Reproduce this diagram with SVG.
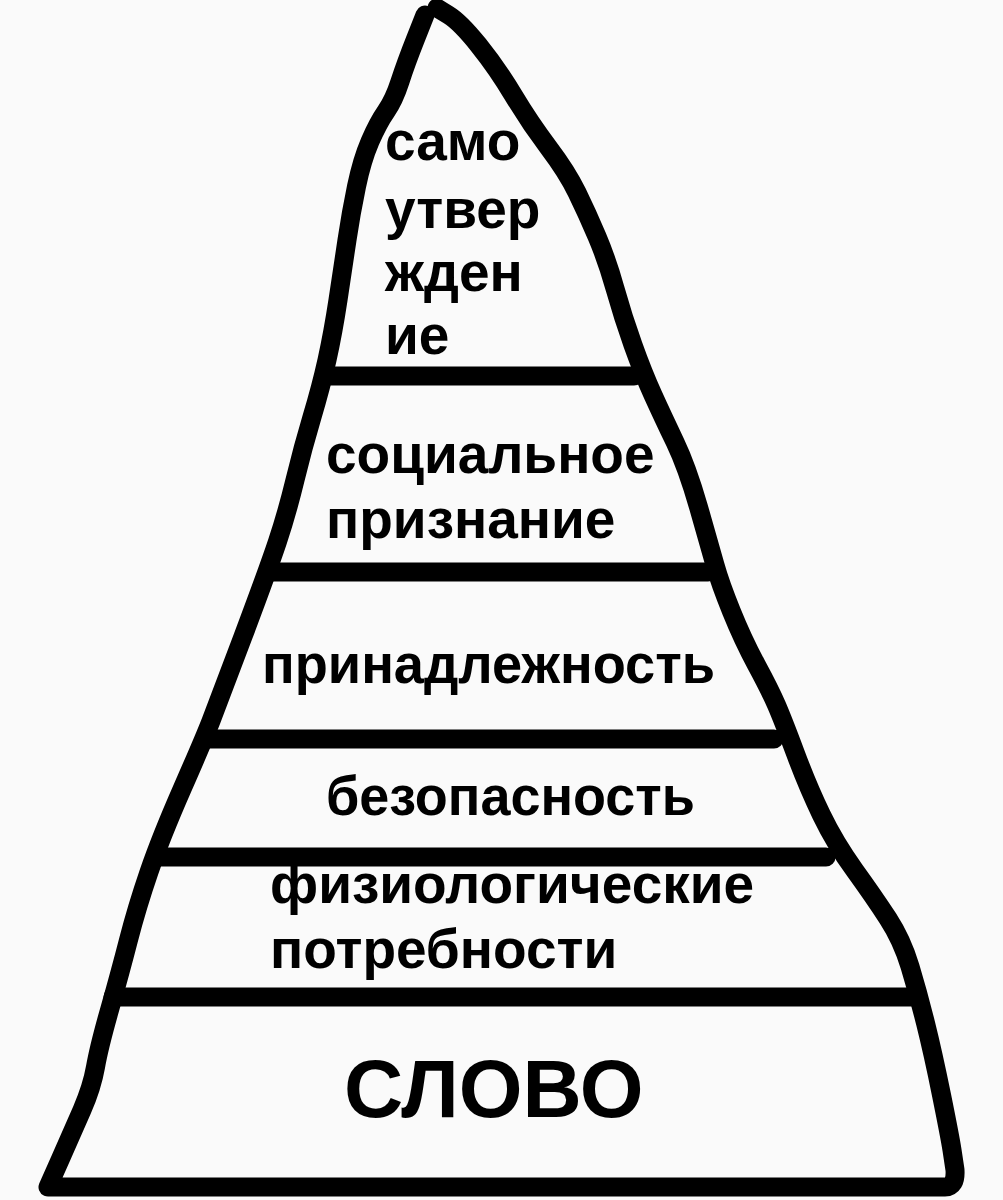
<svg xmlns="http://www.w3.org/2000/svg" width="1003" height="1200" viewBox="0 0 1003 1200">
<style>
.l{fill:none;stroke:#000;stroke-width:19;stroke-linecap:round;stroke-linejoin:round}
.t{font-family:"Liberation Sans",Arial,sans-serif;font-weight:bold;font-size:55px;fill:#000}
.b{font-size:82px}
</style>
<rect width="1003" height="1200" fill="#fafafa"/>
<g id="connectors">
<path class="l" d="M425 15L415.5 39Q406 63 400 81.5Q394 100 386 111.5Q378 123 370 141.5Q362 160 356.5 186.5Q351 213 347 240Q343 267 338 300Q333 333 327 360Q321 387 312 417Q303 447 295 480Q287 513 277.5 541.5Q268 570 243 636.5Q218 703 211 721Q204 739 182.5 788Q161 837 149 872Q137 907 128.5 940Q120 973 109.5 1010Q99 1047 95.5 1067Q92 1087 82 1110Q72 1133 60 1160L48 1187L945 1187Q956 1187 955 1170L952 1150Q950 1137 941.5 1095Q933 1053 925.5 1023Q918 993 910 966.5Q902 940 888 918.5Q874 897 854.5 870Q835 843 821.5 815Q808 787 795.5 753.5Q783 720 776.5 705Q770 690 756.5 665Q743 640 731.5 611.5Q720 583 715 565Q710 547 698.5 507Q687 467 675 442Q663 417 653 395Q643 373 633 345Q623 317 615 288.5Q607 260 597 236.5Q587 213 577 192.5Q567 172 548.5 147.5Q530 123 513.5 95.5Q497 68 478.5 45Q460 22 448.5 15L437 8"/>
</g>
<g id="level-1"><path class="l" d="M113 997H918"/><text class="t b" x="344" y="1117">СЛОВО</text></g>
<g id="level-2"><path class="l" d="M155 857H826"/><text class="t" x="270" y="903">физиологические</text><text class="t" x="270" y="968">потребности</text></g>
<g id="level-3"><path class="l" d="M205 739H774"/><text class="t" x="326" y="815" textLength="369" lengthAdjust="spacingAndGlyphs">безопасность</text></g>
<g id="level-4"><path class="l" d="M268 572H708"/><text class="t" x="262" y="683" textLength="453" lengthAdjust="spacingAndGlyphs">принадлежность</text></g>
<g id="level-5"><path class="l" d="M325 376H634"/><text class="t" x="326" y="473">социальное</text><text class="t" x="326" y="538">признание</text></g>
<g id="level-6"><text class="t" x="385" y="160">само</text><text class="t" x="385" y="228">утвер</text><text class="t" x="385" y="291">жден</text><text class="t" x="385" y="354">ие</text></g>
</svg>
